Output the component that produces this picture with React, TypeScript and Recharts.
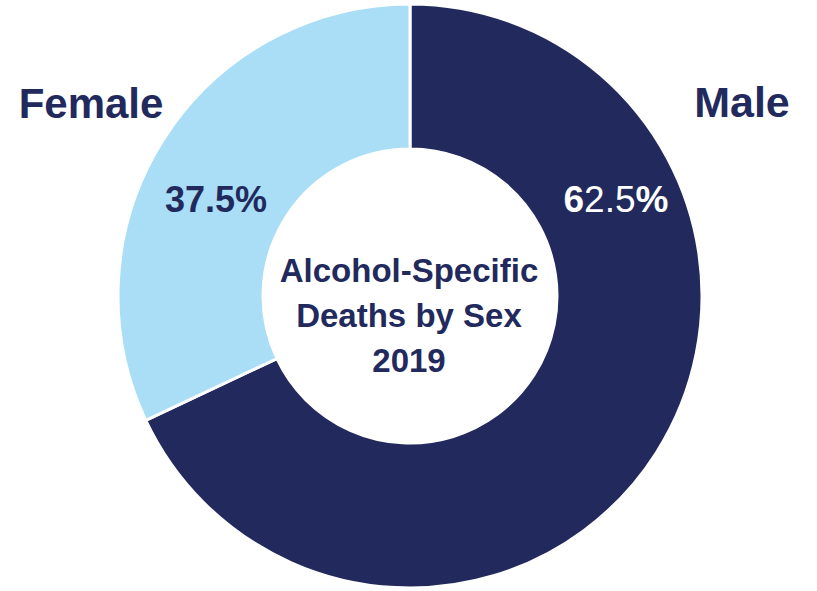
import React from "react";
import { Cell, Pie, PieChart } from "recharts";

// slice shares as drawn in the picture (male clockwise from 12 o'clock)
const SEXES = ["Male", "Female"];
const SLICE_SHARES = [68, 32];
const PCT_LABELS = ["62.5%", "37.5%"];
const TITLE_LINES = ["Alcohol-Specific", "Deaths by Sex", "2019"];

const NAVY = "#222A5D";
const SKY = "#A9DEF6";
const FONT = "'Liberation Sans', Arial, sans-serif";

const data = SEXES.map((sex, i) => ({ sex, share: SLICE_SHARES[i] }));
const COLORS = [NAVY, SKY];

export default function App() {
  return (
    <div style={{ position: "absolute", left: 0, top: 0, width: 817, height: 591, background: "#fff" }}>
      <PieChart width={817} height={591} margin={{ top: 0, right: 0, bottom: 0, left: 0 }}>
        <Pie
          data={data}
          dataKey="share"
          nameKey="sex"
          cx={410}
          cy={296}
          innerRadius={147}
          outerRadius={292}
          startAngle={90}
          endAngle={-270}
          stroke="#fff"
          strokeWidth={3}
          isAnimationActive={false}
        >
          {data.map((_, i) => (
            <Cell key={i} fill={COLORS[i]} />
          ))}
        </Pie>
      </PieChart>
      <svg
        width={817}
        height={591}
        style={{ position: "absolute", left: 0, top: 0, pointerEvents: "none" }}
        fontFamily={FONT}
        fontWeight="bold"
      >
        <text x={91} y={118} textAnchor="middle" fontSize={42} fill={NAVY}>
          {SEXES[1]}
        </text>
        <text x={742} y={117} textAnchor="middle" fontSize={43} fill={NAVY}>
          {SEXES[0]}
        </text>
        <text x={216} y={212} textAnchor="middle" fontSize={36} fill={NAVY}>
          {PCT_LABELS[1]}
        </text>
        <text x={616} y={212} textAnchor="middle" fontSize={37} fill="#fff">
          <tspan fontWeight="bold">{PCT_LABELS[0].slice(0, 1)}</tspan>
          <tspan fontWeight="normal">{PCT_LABELS[0].slice(1, -1)}</tspan>
          <tspan fontWeight="bold">{PCT_LABELS[0].slice(-1)}</tspan>
        </text>
        {TITLE_LINES.map((line, i) => (
          <text
            key={line}
            x={409}
            y={282 + i * 45}
            textAnchor="middle"
            fontSize={33}
            fill={NAVY}
          >
            {line}
          </text>
        ))}
      </svg>
    </div>
  );
}
